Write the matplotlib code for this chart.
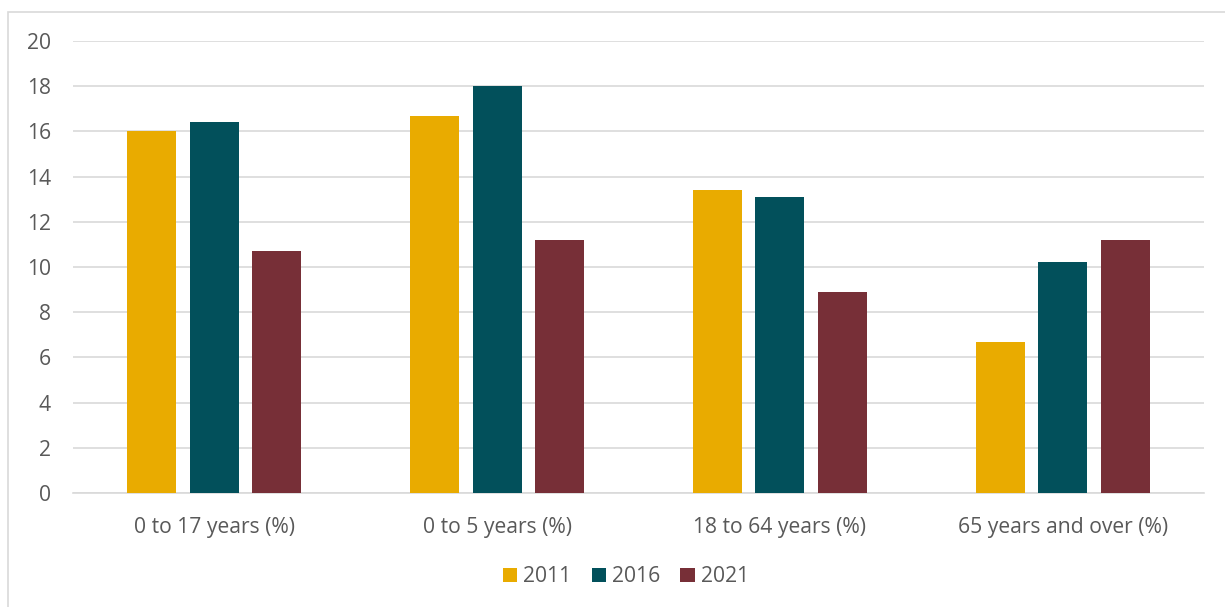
import numpy as np
import matplotlib
matplotlib.use("Agg")
import matplotlib.pyplot as plt
from matplotlib.patches import Rectangle

# datos
categorias = ["0 to 17 years (%)", "0 to 5 years (%)", "18 to 64 years (%)", "65 years and over (%)"]
anios = ["2011", "2016", "2021"]
v2011 = [16.0, 16.7, 13.4, 6.7]
v2016 = [16.4, 18.0, 13.1, 10.2]
v2021 = [10.7, 11.2, 8.9, 11.2]
colores = ["#E9AB00", "#02505B", "#772F37"]

plt.rcParams['font.family'] = ['Open Sans', 'DejaVu Sans']

fig = plt.figure(figsize=(12.25, 6.07), dpi=100)
ax = fig.add_axes([73/1225, 1 - 493/607, (1204 - 73)/1225, (493 - 41)/607])

# borde del área del gráfico
fig.patches.append(Rectangle((8/1225, -0.1), 1.2, 1 - 12/607 + 0.1, transform=fig.transFigure,
                             fill=False, edgecolor="#D9D9D9", linewidth=1.2))

x = np.arange(len(categorias))
ancho = 0.173
paso = 0.221
for i, (vals, anio) in enumerate(zip([v2011, v2016, v2021], anios)):
    ax.bar(x + (i - 1) * paso, vals, width=ancho, color=colores[i], label=anio, zorder=3)

ax.set_xlim(-0.5, len(categorias) - 0.5)
ax.set_ylim(0, 20)
ax.set_yticks(range(0, 21, 2))
ax.set_xticks(x)
ax.set_xticklabels(categorias)
ax.yaxis.grid(True, color="#D9D9D9", linewidth=1.2, zorder=0)
for s in ["top", "right", "left"]:
    ax.spines[s].set_visible(False)
ax.spines["bottom"].set_color("#D9D9D9")
ax.spines["bottom"].set_linewidth(1.2)
ax.tick_params(axis="both", length=0, labelsize=15.2, colors="#595959")
ax.tick_params(axis="x", pad=17)
ax.tick_params(axis="y", pad=16)

leg = ax.legend(loc="center", bbox_to_anchor=(626/1225, 1 - 577/607), bbox_transform=fig.transFigure,
                ncol=3, frameon=False, fontsize=15.2, handlelength=0.67, handleheight=0.67,
                columnspacing=0.95, handletextpad=0.3)
for t in leg.get_texts():
    t.set_color("#595959")

fig.savefig("out.png", dpi=100)
